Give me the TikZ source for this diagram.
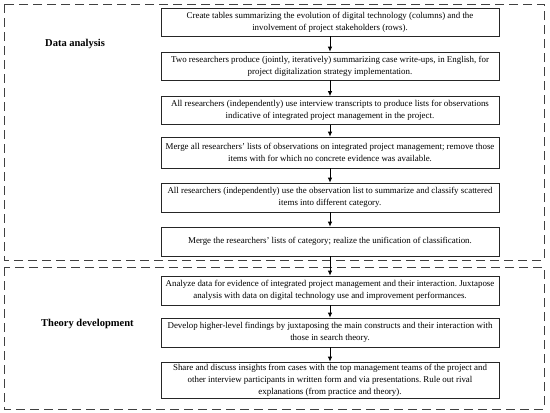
\documentclass[tikz,border=0pt]{standalone}
\usepackage{fontspec}
\setmainfont{Liberation Serif}
\usetikzlibrary{arrows.meta}
\tikzset{
  stepbox/.style={draw=black!85, line width=0.8pt, fill=white, minimum width=338pt, inner xsep=0pt, inner ysep=1pt,
    align=center, minimum height=28pt, font=\fontsize{8.9}{12}\selectfont},
  frame/.style={draw=black!75, line width=0.9pt, dash pattern=on 9pt off 5pt},
  flow/.style={draw=black, line width=0.8pt, -{Latex[length=5pt,width=4.5pt]}},
  phase/.style={font=\fontsize{10.5}{12}\selectfont\bfseries, anchor=west, inner sep=0pt}
}
\begin{document}
\frenchspacing
\begin{tikzpicture}[x=1pt,y=-1pt]
\useasboundingbox (0,0) rectangle (550,413);
\fill[white] (0,0) rectangle (550,413);
\draw[frame] (4,4) rectangle (544,260);
\draw[frame] (4,267) rectangle (544,409);
\node[phase] (da) at (45,44) {Data analysis};
\node[phase] (td) at (41,324) {Theory development};
\node[stepbox] (b1) at (330,22) {Create tables summarizing the evolution of digital technology (columns) and the\\ involvement of project stakeholders (rows).};
\node[stepbox] (b2) at (330,66) {Two researchers produce (jointly, iteratively) summarizing case write-ups, in English, for\\ project digitalization strategy implementation.};
\node[stepbox] (b3) at (330,110.5) {All researchers (independently) use interview transcripts to produce lists for observations\\ indicative of integrated project management in the project.};
\node[stepbox, minimum height=31pt] (b4) at (330,152.5) {Merge all researchers' lists of observations on integrated project management; remove those\\ items with for which no concrete evidence was available.};
\node[stepbox, minimum height=29pt] (b5) at (330,197.5) {All researchers (independently) use the observation list to summarize and classify scattered\\ items into different category.};
\node[stepbox, minimum height=29pt] (b6) at (330,241.5) {Merge the researchers' lists of category; realize the unification of classification.};
\node[stepbox, minimum height=29pt] (b7) at (330,290.5) {Analyze data for evidence of integrated project management and their interaction. Juxtapose\\ analysis with data on digital technology use and improvement performances.};
\node[stepbox, minimum height=29pt] (b8) at (330,332.5) {Develop higher-level findings by juxtaposing the main constructs and their interaction with\\ those in search theory.};
\node[stepbox, minimum height=36pt] (b9) at (330,380) {Share and discuss insights from cases with the top management teams of the project and\\ other interview participants in written form and via presentations. Rule out rival\\ explanations (from practice and theory).};
\draw[flow] (b1) -- (b2);
\draw[flow] (b2) -- (b3);
\draw[flow] (b3) -- (b4);
\draw[flow] (b4) -- (b5);
\draw[flow] (b5) -- (b6);
\draw[flow] (b6) -- (b7);
\draw[flow] (b7) -- (b8);
\draw[flow] (b8) -- (b9);
\end{tikzpicture}
\end{document}
